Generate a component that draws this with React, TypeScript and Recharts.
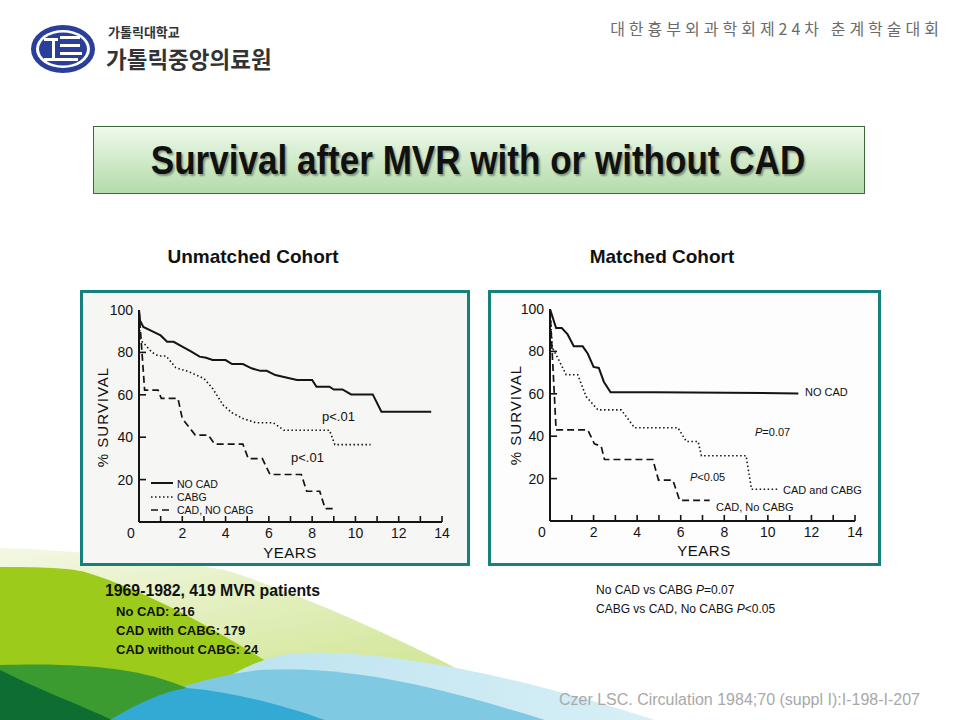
import React from "react";
import { LineChart, Line, XAxis, YAxis } from "recharts";

// axis ticks
const yearTicks = [0, 1, 2, 3, 4, 5, 6, 7, 8, 9, 10, 11, 12, 13, 14];
const survivalTicks = [0, 10, 20, 30, 40, 50, 60, 70, 80, 90, 100];

// unmatched cohort (left panel)
const unNoCadYears = [0, 0.05, 0.2, 0.6, 1.0, 1.3, 1.6, 2.0, 2.4, 2.8, 3.1, 3.4, 4.0, 4.3, 4.8, 5.2, 5.6, 5.9, 6.3, 6.8, 7.3, 8.0, 8.2, 8.8, 9.0, 9.4, 9.8, 10.8, 11.2, 13.5];
const unNoCadSurvival = [100, 95, 92, 90, 88, 85, 85, 82.7, 80.5, 78, 77.5, 76.4, 76.4, 74.5, 74.5, 72.5, 71.3, 71.3, 69.3, 68.2, 67, 67, 63.8, 63.8, 62.5, 62.5, 60.2, 60.2, 52, 52];
const unCabgYears = [0, 0.05, 0.3, 0.6, 0.9, 1.25, 1.7, 2.3, 3.0, 3.4, 3.9, 4.3, 4.8, 5.4, 6.2, 6.7, 8.8, 9.05, 10.7];
const unCabgSurvival = [100, 86, 83.5, 80, 78.3, 78.3, 72.8, 70.9, 67.7, 63, 55, 51.5, 48.8, 46.8, 46.8, 43.3, 43.3, 36.5, 36.5];
const unNoCabgYears = [0, 0.26, 0.88, 1.03, 1.8, 2.0, 2.6, 3.2, 3.5, 4.8, 5.05, 5.7, 6.05, 7.5, 7.75, 8.35, 8.6, 9.05];
const unNoCabgSurvival = [100, 62.2, 62.2, 58.3, 58.3, 48.8, 41, 41, 36.7, 36.7, 29.9, 29.9, 22.4, 22.4, 14.5, 14.5, 6.3, 6.3];

// matched cohort (right panel)
const mNoCadYears = [0, 0.28, 0.54, 0.81, 1.09, 1.5, 1.73, 2.0, 2.24, 2.47, 2.78, 4.8, 11.4];
const mNoCadSurvival = [100, 91, 91, 88, 82.4, 82.4, 79, 72.7, 72.2, 65.7, 60.7, 60.7, 60.2];
const mCabgYears = [0, 0.1, 0.4, 0.74, 1.27, 1.66, 2.2, 3.27, 3.88, 5.87, 6.26, 6.8, 6.95, 9.0, 9.25, 10.5];
const mCabgSurvival = [100, 82, 76, 69, 69, 58.7, 52.4, 52.4, 44, 44, 37.5, 37.5, 30.8, 30.8, 15, 15];
const mNoCabgYears = [0, 0.28, 1.73, 2.04, 2.35, 2.5, 4.72, 4.98, 5.64, 5.95, 7.33];
const mNoCabgSurvival = [100, 43, 43, 36.4, 35.3, 29, 29, 19.3, 19.3, 9.7, 9.7];

const zip = (xs: number[], ys: number[]) => xs.map((year, i) => ({ year, survival: ys[i] }));

const INK = "#141414";
const SCAN_FONT = "'Liberation Sans', Arial, sans-serif";
const KR_FONT = "'Noto Sans CJK KR', sans-serif";
const TICK_GAP = 6;

const STYLES = {
  solid: { strokeWidth: 2, strokeDasharray: undefined },
  dotted: { strokeWidth: 1.6, strokeDasharray: "1.5 2.5" },
  dashed: { strokeWidth: 1.7, strokeDasharray: "7 4" },
};

type Series = { name: string; data: { year: number; survival: number }[]; style: keyof typeof STYLES };

function YTick(props: any) {
  const { x, y, payload } = props;
  const v = payload.value;
  const ax = x + TICK_GAP;
  return (
    <g>
      {v > 0 && v < 100 && <line x1={ax} x2={ax + 7} y1={y} y2={y} stroke={INK} strokeWidth={1.6} />}
      {v > 0 && v % 20 === 0 && (
        <text x={x} y={y} dy={5} textAnchor="end" fontSize={14} fill={INK} fontFamily={SCAN_FONT}>
          {v}
        </text>
      )}
    </g>
  );
}

function XTick(props: any) {
  const { x, y, payload } = props;
  const v = payload.value;
  const ay = y - TICK_GAP;
  return (
    <g>
      {v > 0 && <line x1={x} x2={x} y1={ay} y2={ay - 6} stroke={INK} strokeWidth={1.6} />}
      {v % 2 === 0 && (
        <text x={v === 0 ? x - 8 : x} y={y} dy={10} textAnchor="middle" fontSize={14} fill={INK} fontFamily={SCAN_FONT}>
          {v}
        </text>
      )}
    </g>
  );
}

function KMChart({ series, width, height, margin, yWidth, xHeight }: {
  series: Series[]; width: number; height: number;
  margin: { top: number; right: number }; yWidth: number; xHeight: number;
}) {
  return (
    <LineChart width={width} height={height} margin={{ top: margin.top, right: margin.right, left: 0, bottom: 0 }}>
      <XAxis
        type="number"
        dataKey="year"
        domain={[0, 14]}
        ticks={yearTicks}
        allowDataOverflow
        height={xHeight}
        tickSize={0}
        tickMargin={TICK_GAP}
        tick={<XTick />}
        axisLine={{ stroke: INK, strokeWidth: 2 }}
        tickLine={false}
      />
      <YAxis
        type="number"
        dataKey="survival"
        domain={[0, 100]}
        ticks={survivalTicks}
        allowDataOverflow
        width={yWidth}
        tickSize={0}
        tickMargin={TICK_GAP}
        tick={<YTick />}
        axisLine={{ stroke: INK, strokeWidth: 2 }}
        tickLine={false}
      />
      {series.map((s) => (
        <Line
          key={s.name}
          data={s.data}
          dataKey="survival"
          type="linear"
          stroke={INK}
          strokeWidth={STYLES[s.style].strokeWidth}
          strokeDasharray={STYLES[s.style].strokeDasharray}
          dot={false}
          activeDot={false}
          isAnimationActive={false}
        />
      ))}
    </LineChart>
  );
}

function T({ x, y, size, children, anchor = "start", color = "#111", weight = 400, font = SCAN_FONT, spacing = 0 }: any) {
  const tx = anchor === "middle" ? "-50%" : anchor === "end" ? "-100%" : "0";
  return (
    <div
      style={{
        position: "absolute", left: x, top: y, transform: `translate(${tx}, -50%)`,
        whiteSpace: "nowrap", lineHeight: 1, fontSize: size, color, fontWeight: weight,
        fontFamily: font, letterSpacing: spacing,
      }}
    >
      {children}
    </div>
  );
}

function LegendSample({ x, y, style }: { x: number; y: number; style: keyof typeof STYLES }) {
  return (
    <svg style={{ position: "absolute", left: x, top: y - 3 }} width={22} height={6}>
      <line x1={0} x2={22} y1={3} y2={3} stroke={INK} strokeWidth={STYLES[style].strokeWidth} strokeDasharray={STYLES[style].strokeDasharray} />
    </svg>
  );
}

function Decoration() {
  return (
    <svg style={{ position: "absolute", left: 0, top: 0 }} width={960} height={720}>
      <defs>
        <linearGradient id="pale" x1="0" y1="0" x2="0.6" y2="1">
          <stop offset="0%" stopColor="#f4f8e4" />
          <stop offset="60%" stopColor="#dcecb0" />
          <stop offset="100%" stopColor="#cfe38c" />
        </linearGradient>
        <linearGradient id="cyan" x1="0" y1="0" x2="1" y2="0">
          <stop offset="0%" stopColor="#b9e2ef" />
          <stop offset="100%" stopColor="#d8eff6" />
        </linearGradient>
      </defs>
      <path d="M0,548 C80,550 170,560 225,570 C290,590 380,630 440,660 C480,680 510,700 530,720 L0,720 Z" fill="url(#pale)" />
      <path d="M0,567 C40,567 70,568 85,572 C150,592 220,632 275,667 L200,720 L0,720 Z" fill="#9dcb1c" />
      <path d="M175,720 C215,680 255,656 300,653 C400,650 530,680 655,720 Z" fill="url(#cyan)" />
      <path d="M110,720 C150,696 200,677 260,670 C360,664 460,694 545,720 Z" fill="#7fcae2" />
      <path d="M0,665 C100,662 150,672 187,688 L125,720 L0,720 Z" fill="#3b9b30" />
      <path d="M0,670 C40,690 80,705 112,720 L0,720 Z" fill="#0e6d30" />
      <path d="M110,720 C140,702 165,691 187,688 C235,692 285,706 325,720 Z" fill="#33aad3" />
    </svg>
  );
}

function Logo() {
  return (
    <>
      <svg style={{ position: "absolute", left: 30, top: 24 }} width={66} height={50}>
        <ellipse cx={33} cy={25} rx={32} ry={24} fill="#2a3f9a" />
        <ellipse cx={33} cy={25} rx={27} ry={19} fill="#ffffff" />
        <ellipse cx={33} cy={25} rx={24} ry={16.5} fill="#2a3f9a" />
        <rect x={14} y={14} width={14} height={3} fill="#fff" />
        <rect x={22} y={14} width={3} height={20} fill="#fff" />
        <rect x={30} y={12} width={20} height={3} fill="#fff" />
        <rect x={30} y={20} width={20} height={3} fill="#fff" />
        <rect x={30} y={28} width={22} height={3} fill="#fff" />
        <rect x={14} y={34} width={34} height={3} fill="#fff" />
      </svg>
      <T x={108} y={31} size={13} weight={700} color="#333" font={KR_FONT}>가톨릭대학교</T>
      <T x={106} y={58} size={22.5} weight={700} color="#333" font={KR_FONT} spacing={0}>가톨릭중앙의료원</T>
    </>
  );
}

const leftSeries: Series[] = [
  { name: "NO CAD", data: zip(unNoCadYears, unNoCadSurvival), style: "solid" },
  { name: "CABG", data: zip(unCabgYears, unCabgSurvival), style: "dotted" },
  { name: "CAD, NO CABG", data: zip(unNoCabgYears, unNoCabgSurvival), style: "dashed" },
];
const rightSeries: Series[] = [
  { name: "NO CAD", data: zip(mNoCadYears, mNoCadSurvival), style: "solid" },
  { name: "CAD and CABG", data: zip(mCabgYears, mCabgSurvival), style: "dotted" },
  { name: "CAD, No CABG", data: zip(mNoCabgYears, mNoCabgSurvival), style: "dashed" },
];

const boxStyle = (left: number, width: number, bg: string): React.CSSProperties => ({
  position: "absolute", left, top: 290, width, height: 276, boxSizing: "border-box",
  border: "3px solid #16807c", background: bg,
});

export default function App() {
  return (
    <div style={{ position: "absolute", left: 0, top: 0, width: 960, height: 720, overflow: "hidden", background: "#fff", fontFamily: SCAN_FONT }}>
      <Decoration />
      <Logo />
      <T x={943} y={28} size={16} anchor="end" color="#6b6b6b" font={KR_FONT} spacing={4}>
        대한흉부외과학회제24차 춘계학술대회
      </T>

      <div
        style={{
          position: "absolute", left: 93, top: 126, width: 772, height: 68, boxSizing: "border-box",
          border: "1px solid #3c6a3c", background: "linear-gradient(#eef9ea, #b3dcaa)",
        }}
      />
      <T x={478} y={160} size={41} anchor="middle" weight={700} color="#111">
        <span style={{ display: "inline-block", transform: "scaleX(0.855)", textShadow: "2px 2px 2px rgba(0,0,0,0.35)" }}>
          Survival after MVR with or without CAD
        </span>
      </T>

      <T x={253} y={256} size={19} anchor="middle" weight={700}>Unmatched Cohort</T>
      <T x={662} y={256} size={19} anchor="middle" weight={700}>Matched Cohort</T>

      <div style={boxStyle(80, 390, "#f6f6f4")}>
        <KMChart series={leftSeries} width={384} height={270} margin={{ top: 17, right: 25 }} yWidth={56} xHeight={41} />
      </div>
      <T x={102} y={417} size={15} anchor="middle" spacing={1}>
        <div style={{ transform: "rotate(-90deg)" }}>% SURVIVAL</div>
      </T>
      <T x={290} y={552} size={15} anchor="middle" spacing={0.5}>YEARS</T>
      <LegendSample x={151} y={483} style="solid" />
      <LegendSample x={151} y={497} style="dotted" />
      <LegendSample x={151} y={510} style="dashed" />
      <T x={177} y={484} size={10.5}>NO CAD</T>
      <T x={177} y={497} size={10.5}>CABG</T>
      <T x={177} y={510} size={10.5}>CAD, NO CABG</T>
      <T x={322} y={416} size={13}>p&lt;.01</T>
      <T x={291} y={457} size={13}>p&lt;.01</T>

      <div style={boxStyle(488, 393, "#fdfdfd")}>
        <KMChart series={rightSeries} width={387} height={270} margin={{ top: 16, right: 23 }} yWidth={59} xHeight={42} />
      </div>
      <T x={515} y={415} size={15} anchor="middle" spacing={1}>
        <div style={{ transform: "rotate(-90deg)" }}>% SURVIVAL</div>
      </T>
      <T x={704} y={550} size={15} anchor="middle" spacing={0.5}>YEARS</T>
      <T x={805} y={392} size={11}>NO CAD</T>
      <T x={755} y={432} size={11}><i>P</i>=0.07</T>
      <T x={690} y={477} size={11}><i>P</i>&lt;0.05</T>
      <T x={783} y={490} size={11}>CAD and CABG</T>
      <T x={716} y={507} size={11}>CAD, No CABG</T>

      <T x={105} y={591} size={15.8} weight={700}>1969-1982, 419 MVR patients</T>
      <T x={116} y={611} size={13} weight={700}>No CAD:  216</T>
      <T x={116} y={630} size={13} weight={700}>CAD  with CABG:  179</T>
      <T x={116} y={649} size={13} weight={700}>CAD  without CABG:  24</T>

      <T x={596} y={590} size={12}>No CAD vs CABG <i>P</i>=0.07</T>
      <T x={596} y={609} size={12}>CABG vs CAD, No CABG <i>P</i>&lt;0.05</T>

      <T x={920} y={700} size={16} anchor="end" color="#a9a9a9">
        Czer LSC. Circulation 1984;70 (suppl I):I-198-I-207
      </T>
    </div>
  );
}
